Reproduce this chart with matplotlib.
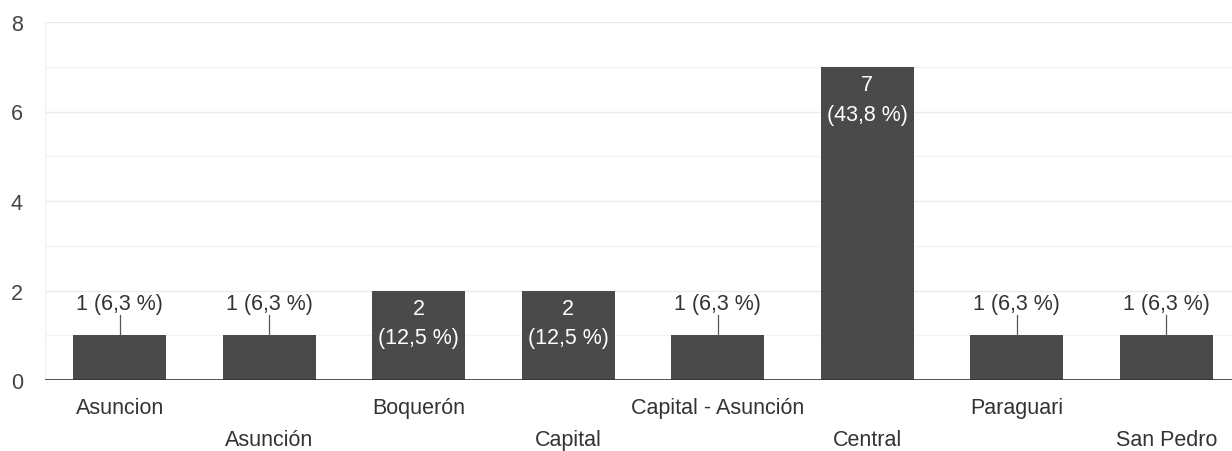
import matplotlib
matplotlib.use("Agg")
import matplotlib.pyplot as plt

categories = ["Asuncion", "Asunción", "Boquerón", "Capital", "Capital - Asunción",
              "Central", "Paraguari", "San Pedro"]
counts = [1, 1, 2, 2, 1, 7, 1, 1]
percents = ["6,3", "6,3", "12,5", "12,5", "6,3", "43,8", "6,3", "6,3"]
yticks = [0, 2, 4, 6, 8]

plt.rcParams['font.family'] = ['Liberation Sans', 'DejaVu Sans']
FS = 15.5
fig = plt.figure(figsize=(12.32, 4.52), dpi=100)
L = 45 / 1232
R = 1241 / 1232
B = 1 - 381 / 452
T = 1 - 23 / 452
ax = fig.add_axes([L, B, R - L, T - B])

bar_color = "#4a4a4a"
x = list(range(len(categories)))
ax.bar(x, counts, width=0.62, color=bar_color, zorder=3)
ax.set_xlim(-0.5, len(categories) - 0.5)
ax.set_ylim(0, 8)

for v in range(1, 9):
    ax.axhline(v, color="#ebebeb" if v % 2 == 0 else "#f3f3f3", lw=1, zorder=1)
ax.axvline(-0.5, color="#f0f0f0", lw=1, zorder=1)
ax.axhline(0, color="#333333", lw=1.2, zorder=4)

for s in ax.spines.values():
    s.set_visible(False)
ax.set_xticks([])
ax.set_yticks(yticks)
ax.set_yticklabels([str(t) for t in yticks], color="#444444", fontsize=FS)
ax.tick_params(axis="y", length=0, pad=16)

for i, (c, p) in enumerate(zip(counts, percents)):
    if c == 1:
        ax.plot([i, i], [c, c + 0.45], color="#555555", lw=0.9, zorder=4)
        ax.text(i, c + 0.70, f"{c} ({p} %)", ha="center", va="center",
                fontsize=FS, color="#333333", zorder=5)
    else:
        ax.text(i, c - 0.40, f"{c}", ha="center", va="center",
                fontsize=FS, color="white", zorder=5)
        ax.text(i, c - 1.06, f"({p} %)", ha="center", va="center",
                fontsize=FS, color="white", zorder=5)

axh = (381 - 23)
for i, name in enumerate(categories):
    ybase = 414 if i % 2 == 0 else 446
    yoff = -(ybase - 381) / axh
    ax.text(i, yoff, name, transform=ax.get_xaxis_transform(), ha="center",
            va="baseline", fontsize=FS, color="#333333")

fig.savefig("out.png", dpi=100)
